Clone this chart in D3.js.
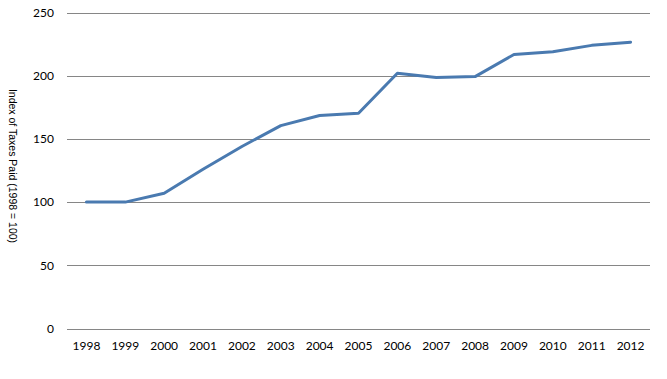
<!DOCTYPE html>
<html><head><meta charset="utf-8">
<script src="https://cdn.jsdelivr.net/npm/d3@7"></script>
<style>body{margin:0;background:#fff}svg{display:block}</style>
</head><body>
<svg id="c" width="667" height="379"></svg>
<script>
const years = ["1998","1999","2000","2001","2002","2003","2004","2005","2006","2007","2008","2009","2010","2011","2012"];
const values = [100,100,107,126,144,160.5,168.5,170.3,202,198.5,199.3,216.8,219,224,226.5];
const yTicks = [0,50,100,150,200,250];

const svg = d3.select("#c");
const m = {l:67, r:17, t:12.5, b:50.5};
const W = 667, H = 379;
const x = d3.scaleBand().domain(years).range([m.l, W - m.r]);
const y = d3.scaleLinear().domain([0,250]).range([H - m.b, m.t]);

const g = svg.append("g");
g.selectAll("line.grid").data(yTicks).join("line")
  .attr("x1", m.l).attr("x2", W - m.r)
  .attr("y1", d => Math.round(y(d)) + 0.5).attr("y2", d => Math.round(y(d)) + 0.5)
  .attr("stroke", "#868686").attr("stroke-width", 1);

g.selectAll("text.yt").data(yTicks).join("text")
  .attr("x", 54).attr("y", d => y(d)).attr("dy", "0.35em")
  .attr("text-anchor", "end")
  .attr("font-family", "Lato, 'Open Sans', sans-serif").attr("font-size", 12)
  .attr("fill", "#000").text(d => d);

g.selectAll("text.xt").data(years).join("text")
  .attr("x", d => x(d) + x.bandwidth()/2).attr("y", H - m.b + 21)
  .attr("text-anchor", "middle")
  .attr("font-family", "Lato, 'Open Sans', sans-serif").attr("font-size", 12)
  .attr("fill", "#000").text(d => d);

svg.append("text")
  .attr("transform", `translate(13,166) rotate(90)`)
  .attr("text-anchor", "middle").attr("dy", "0.35em")
  .attr("font-family", "'Liberation Sans', Arial, sans-serif").attr("font-size", 10.5)
  .attr("fill", "#000").text("Index of Taxes Paid (1998 = 100)");

const line = d3.line().x((d,i) => x(years[i]) + x.bandwidth()/2).y(d => y(d));
svg.append("path").datum(values).attr("d", line)
  .attr("fill", "none").attr("stroke", "#4a7ab0").attr("stroke-width", 3)
  .attr("stroke-linejoin", "round").attr("stroke-linecap", "round");
</script>
</body></html>
